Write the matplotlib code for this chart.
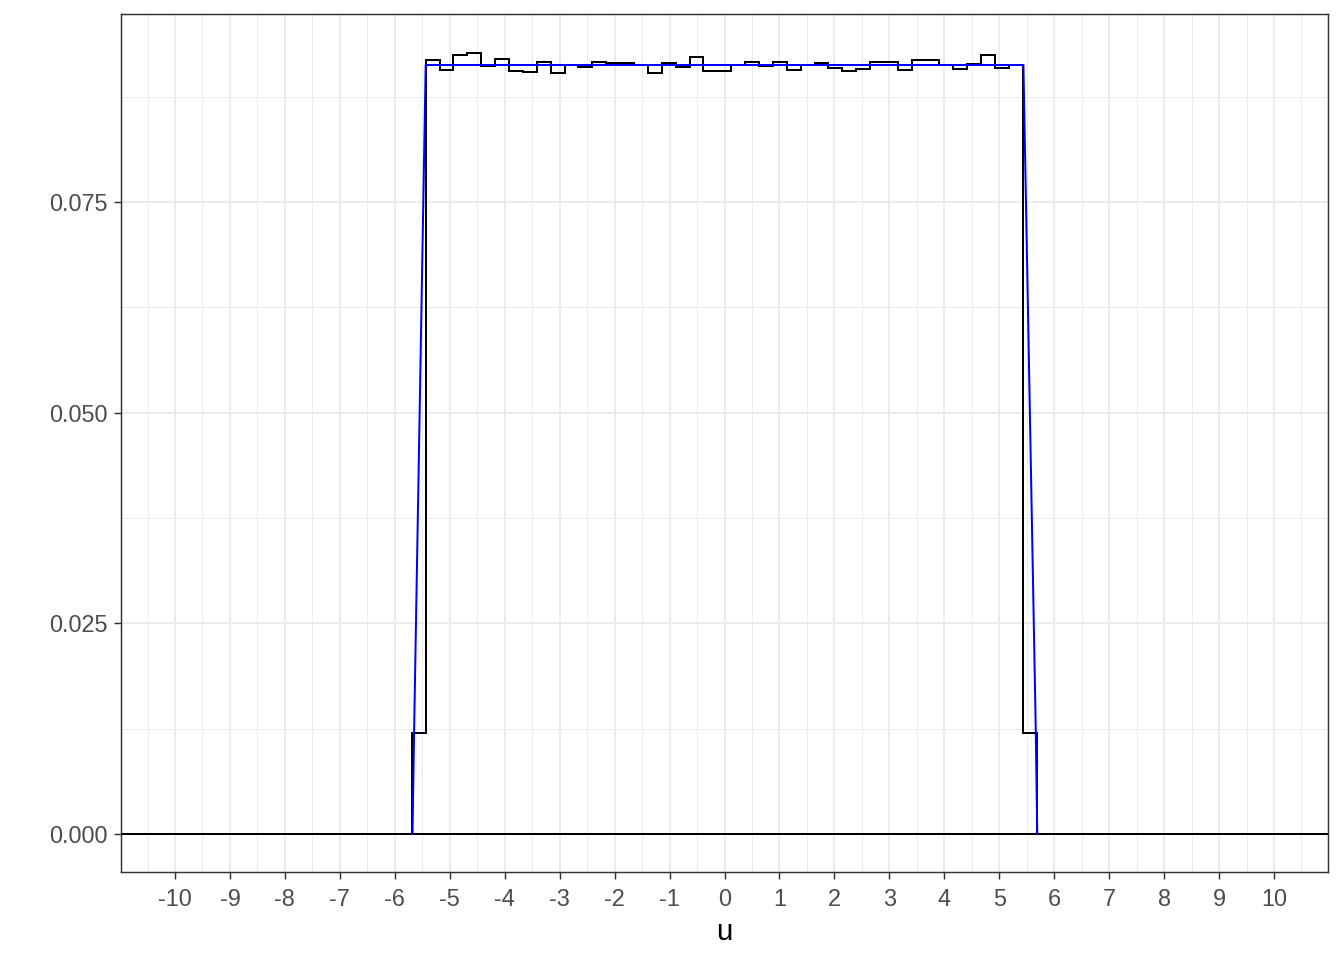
import numpy as np
import matplotlib.pyplot as plt
from matplotlib.ticker import MultipleLocator, FixedLocator

plt.rcParams['font.family'] = ['Liberation Sans', 'DejaVu Sans']

# histogram (density scale), equal-width bins
bin_start = -5.69
bin_width = 0.2527
hist_dens = [0.0120,
             0.0918, 0.0907, 0.0924, 0.0927, 0.0911, 0.0920, 0.0906, 0.0904,
             0.0916, 0.0903, 0.0913, 0.0910, 0.0916, 0.0915, 0.0915, 0.0913,
             0.0903, 0.0915, 0.0910, 0.0922, 0.0906, 0.0906, 0.0913, 0.0916,
             0.0911, 0.0916, 0.0907, 0.0913, 0.0915, 0.0909, 0.0906, 0.0908,
             0.0916, 0.0916, 0.0907, 0.0918, 0.0918, 0.0912, 0.0908, 0.0914,
             0.0925, 0.0909, 0.0913,
             0.0120]

# theoretical density curve (blue)
dens_u = [-5.678, -5.647, -5.438, 5.440, 5.663, 5.692]
dens_y = [0.0, 0.01294, 0.09126, 0.09126, 0.01294, 0.0]

x_ticks = list(range(-10, 11))
y_ticks = [0.0, 0.025, 0.050, 0.075]
y_labels = ["0.000", "0.025", "0.050", "0.075"]

edges = bin_start + bin_width * np.arange(len(hist_dens) + 1)

fig = plt.figure(figsize=(7, 5), dpi=192)
ax = fig.add_axes([121/1344, 1 - 872/960, (1328 - 121)/1344, (872 - 14)/960])

ax.axhline(0, color='black', lw=0.75, zorder=3)
ax.stairs(hist_dens, edges, color='black', lw=0.75, baseline=0, zorder=4)
ax.plot(dens_u, dens_y, color='blue', lw=0.75, zorder=5)

ax.set_xlim(-10.983, 10.983)
ax.set_ylim(-0.00451, 0.09731)

ax.xaxis.set_major_locator(FixedLocator(x_ticks))
ax.set_xticklabels([str(v) for v in x_ticks])
ax.xaxis.set_minor_locator(MultipleLocator(0.5))
ax.yaxis.set_major_locator(FixedLocator(y_ticks))
ax.set_yticklabels(y_labels)
ax.yaxis.set_minor_locator(FixedLocator([0.0125, 0.0375, 0.0625, 0.0875]))

ax.grid(which='major', color='#EBEBEB', lw=0.75, zorder=0)
ax.grid(which='minor', color='#EBEBEB', lw=0.375, zorder=0)
ax.set_axisbelow(True)

ax.tick_params(which='major', length=2.75, width=0.55, color='#333333',
               labelcolor='#4D4D4D', labelsize=8.8, pad=2.2)
ax.tick_params(axis='x', which='major', pad=3.3)
ax.tick_params(which='minor', length=0)
for s in ax.spines.values():
    s.set_color('#333333')
    s.set_linewidth(0.55)

ax.set_xlabel("u", fontsize=11, color='black', labelpad=2.75)

fig.savefig("out.png", dpi=192)
